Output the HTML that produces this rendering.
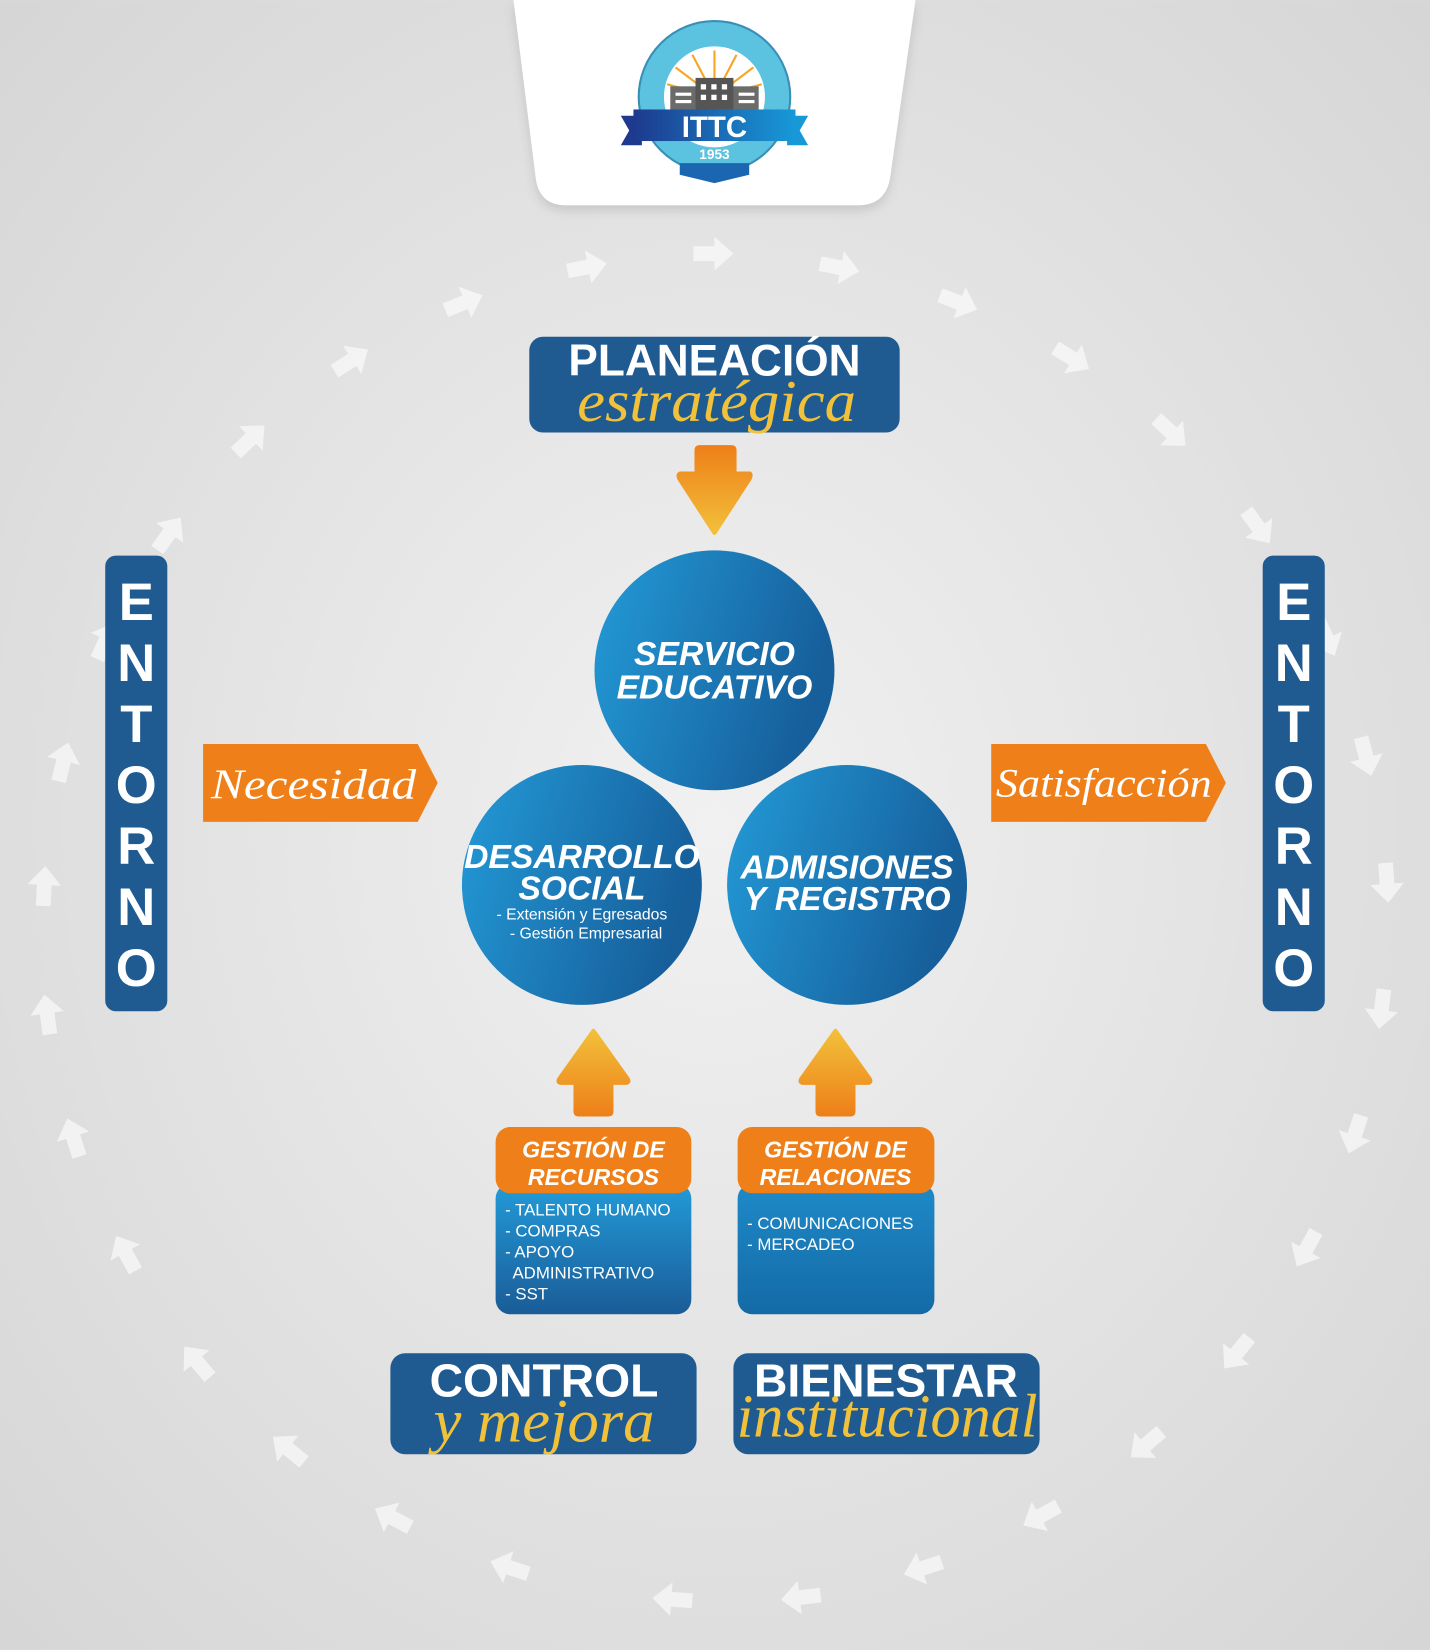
<!DOCTYPE html>
<html><head><meta charset="utf-8"><style>
html,body{margin:0;padding:0;width:1430px;height:1650px;overflow:hidden}
svg{display:block}
</style></head><body>
<svg width="1430" height="1650" viewBox="0 0 1359 1568" xmlns="http://www.w3.org/2000/svg" font-family="Liberation Sans, sans-serif">
<defs>
<radialGradient id="bg" cx="0.5" cy="0.5" r="0.7">
<stop offset="0" stop-color="#f1f1f1"/><stop offset="1" stop-color="#d6d6d6"/></radialGradient>
<linearGradient id="circ" x1="0" y1="0" x2="1" y2="0.3">
<stop offset="0" stop-color="#239bd8"/><stop offset="1" stop-color="#165f9b"/></linearGradient>
<linearGradient id="down" x1="0" y1="0" x2="0" y2="1">
<stop offset="0" stop-color="#ee7f19"/><stop offset="1" stop-color="#f2c13a"/></linearGradient>
<linearGradient id="up" x1="0" y1="1" x2="0" y2="0">
<stop offset="0" stop-color="#ee7f19"/><stop offset="1" stop-color="#f2c13a"/></linearGradient>
<linearGradient id="lst" x1="0" y1="0" x2="0" y2="1">
<stop offset="0" stop-color="#229bd8"/><stop offset="1" stop-color="#1a5c97"/></linearGradient>
<linearGradient id="lst2" x1="0" y1="0" x2="0" y2="1">
<stop offset="0" stop-color="#1e8ac8"/><stop offset="1" stop-color="#146aa6"/></linearGradient>
<linearGradient id="rib" x1="0" y1="0" x2="1" y2="0">
<stop offset="0" stop-color="#1d3a8e"/><stop offset="1" stop-color="#1799d8"/></linearGradient>
<filter id="sh" x="-10%" y="-10%" width="120%" height="130%"><feDropShadow dx="0" dy="5" stdDeviation="5" flood-color="#000" flood-opacity="0.12"/></filter>
<path id="ar" d="M-18,-7 L2,-7 L2,-16 L20,0 L2,16 L2,7 L-18,7 Z" fill="#ffffff" fill-opacity="0.6"/>
</defs>
<rect width="1359" height="1568" fill="url(#bg)"/>

<!-- ring arrows -->
<g>
<use href="#ar" transform="translate(557,254) rotate(-11)"/>
<use href="#ar" transform="translate(677,241) rotate(0)"/>
<use href="#ar" transform="translate(797,254) rotate(11)"/>
<use href="#ar" transform="translate(910,287) rotate(21)"/>
<use href="#ar" transform="translate(1018,340) rotate(32)"/>
<use href="#ar" transform="translate(1112,410) rotate(43)"/>
<use href="#ar" transform="translate(1195,500) rotate(54)"/>
<use href="#ar" transform="translate(1260,605) rotate(65)"/>
<use href="#ar" transform="translate(1298,718) rotate(75)"/>
<use href="#ar" transform="translate(1318,838) rotate(86)"/>
<use href="#ar" transform="translate(1313,958) rotate(97)"/>
<use href="#ar" transform="translate(1288,1077) rotate(108)"/>
<use href="#ar" transform="translate(1242,1186) rotate(119)"/>
<use href="#ar" transform="translate(1176,1285) rotate(129)"/>
<use href="#ar" transform="translate(1090,1372) rotate(140)"/>
<use href="#ar" transform="translate(990,1440) rotate(151)"/>
<use href="#ar" transform="translate(878,1490) rotate(162)"/>
<use href="#ar" transform="translate(762,1518) rotate(173)"/>
<use href="#ar" transform="translate(640,1520) rotate(184)"/>
<use href="#ar" transform="translate(485,1490) rotate(198)"/>
<use href="#ar" transform="translate(374,1443) rotate(208)"/>
<use href="#ar" transform="translate(275,1378) rotate(219)"/>
<use href="#ar" transform="translate(188,1295) rotate(230)"/>
<use href="#ar" transform="translate(120,1192) rotate(241)"/>
<use href="#ar" transform="translate(70,1082) rotate(252)"/>
<use href="#ar" transform="translate(45,965) rotate(262)"/>
<use href="#ar" transform="translate(42,843) rotate(273)"/>
<use href="#ar" transform="translate(60,725) rotate(284)"/>
<use href="#ar" transform="translate(100,610) rotate(295)"/>
<use href="#ar" transform="translate(160,508) rotate(306)"/>
<use href="#ar" transform="translate(237,418) rotate(316)"/>
<use href="#ar" transform="translate(333,343) rotate(327)"/>
<use href="#ar" transform="translate(440,288) rotate(338)"/>
</g>

<!-- logo panel -->
<path d="M488,0 L870,0 L846,168 Q842,195 815,195 L538,195 Q512,195 509,168 Z" fill="#fff" filter="url(#sh)"/>
<g>
<circle cx="679" cy="92" r="72" fill="#5bc2e0" stroke="#3a8fb6" stroke-width="2"/>
<circle cx="679" cy="92" r="48" fill="#fff"/>
<g stroke="#f5a623" stroke-width="2">
<line x1="679" y1="92" x2="679" y2="48"/><line x1="679" y1="92" x2="700" y2="52"/><line x1="679" y1="92" x2="658" y2="52"/>
<line x1="679" y1="92" x2="716" y2="64"/><line x1="679" y1="92" x2="642" y2="64"/><line x1="679" y1="92" x2="724" y2="80"/><line x1="679" y1="92" x2="634" y2="80"/>
</g>
<circle cx="679" cy="92" r="18" fill="#f7c94a"/>
<rect x="637" y="82" width="84" height="24" fill="#6b6b6b"/>
<rect x="661" y="74" width="36" height="32" fill="#555"/>
<g fill="#fff"><rect x="666" y="80" width="5" height="5"/><rect x="676" y="80" width="5" height="5"/><rect x="686" y="80" width="5" height="5"/><rect x="666" y="90" width="5" height="5"/><rect x="676" y="90" width="5" height="5"/><rect x="686" y="90" width="5" height="5"/>
<rect x="642" y="88" width="15" height="3"/><rect x="642" y="95" width="15" height="3"/><rect x="702" y="88" width="15" height="3"/><rect x="702" y="95" width="15" height="3"/></g>
<path d="M590,110 L610,110 L610,138 L590,138 L598,124 Z" fill="#1d3a8e"/>
<path d="M768,110 L748,110 L748,138 L768,138 L760,124 Z" fill="#1799d8"/>
<rect x="602" y="104" width="154" height="30" fill="url(#rib)"/>
<text x="679" y="130" text-anchor="middle" font-size="28" font-weight="bold" fill="#fff">ITTC</text>
<text x="679" y="151" text-anchor="middle" font-size="13" font-weight="bold" fill="#fff">1953</text>
<path d="M646,155 L712,155 L712,166 L679,174 L646,166 Z" fill="#1a66b0"/>
</g>

<!-- Planeacion -->
<rect x="503" y="320" width="352" height="91" rx="13" fill="#1f5b91"/>
<text x="679" y="357" text-anchor="middle" font-size="42" font-weight="bold" fill="#fff">PLANEACIÓN</text>
<text x="681" y="400" text-anchor="middle" font-size="56" font-style="italic" font-family="Liberation Serif, serif" fill="#f2c13a" textLength="265" lengthAdjust="spacingAndGlyphs">estratégica</text>
<path d="M660,428 Q660,423 665,423 L695,423 Q700,423 700,428 L700,448 L713,448 Q717,450 714,456 L681,507 Q679,510 677,507 L644,456 Q641,450 646,448 L660,448 Z" fill="url(#down)"/>

<!-- circles -->
<circle cx="679" cy="637" r="114" fill="url(#circ)"/>
<circle cx="553" cy="841" r="114" fill="url(#circ)"/>
<circle cx="805" cy="841" r="114" fill="url(#circ)"/>
<g fill="#fff" font-weight="bold" font-style="italic" text-anchor="middle" font-size="32">
<text x="679" y="632">SERVICIO</text><text x="679" y="664">EDUCATIVO</text>
<text x="553" y="825">DESARROLLO</text><text x="553" y="855">SOCIAL</text>
<text x="805" y="835">ADMISIONES</text><text x="805" y="865">Y REGISTRO</text>
</g>
<text x="553" y="874" text-anchor="middle" font-size="15" fill="#fff">- Extensión y Egresados</text>
<text x="557" y="892" text-anchor="middle" font-size="15" fill="#fff">- Gestión Empresarial</text>

<!-- up arrows -->
<path d="M545,1056 Q545,1061 550,1061 L578,1061 Q583,1061 583,1056 L583,1031 L596,1031 Q601,1029 598,1024 L566,979 Q564,976 562,979 L530,1024 Q527,1029 532,1031 L545,1031 Z" fill="url(#up)"/>
<path d="M775,1056 Q775,1061 780,1061 L808,1061 Q813,1061 813,1056 L813,1031 L826,1031 Q831,1029 828,1024 L796,979 Q794,976 792,979 L760,1024 Q757,1029 762,1031 L775,1031 Z" fill="url(#up)"/>

<!-- gestion boxes -->
<rect x="471" y="1125" width="186" height="124" rx="14" fill="url(#lst)"/>
<rect x="471" y="1071" width="186" height="63" rx="14" fill="#ef8019"/>
<rect x="701" y="1125" width="187" height="124" rx="14" fill="url(#lst2)"/>
<rect x="701" y="1071" width="187" height="63" rx="14" fill="#ef8019"/>
<g fill="#fff" font-weight="bold" font-style="italic" text-anchor="middle" font-size="22">
<text x="564" y="1100">GESTIÓN DE</text><text x="564" y="1126">RECURSOS</text>
<text x="794" y="1100">GESTIÓN DE</text><text x="794" y="1126">RELACIONES</text>
</g>
<g fill="#fff" font-size="16">
<text x="480" y="1155">- TALENTO HUMANO</text><text x="480" y="1175">- COMPRAS</text><text x="480" y="1195">- APOYO</text><text x="487" y="1215">ADMINISTRATIVO</text><text x="480" y="1235">- SST</text>
<text x="710" y="1168">- COMUNICACIONES</text><text x="710" y="1188">- MERCADEO</text>
</g>

<!-- control / bienestar -->
<rect x="371" y="1286" width="291" height="96" rx="14" fill="#1f5b91"/>
<rect x="697" y="1286" width="291" height="96" rx="14" fill="#1f5b91"/>
<text x="517" y="1327" text-anchor="middle" font-size="44" font-weight="bold" fill="#fff">CONTROL</text>
<text x="517" y="1370" text-anchor="middle" font-size="58" font-style="italic" font-family="Liberation Serif, serif" fill="#f2c13a" textLength="210" lengthAdjust="spacingAndGlyphs">y mejora</text>
<text x="842" y="1327" text-anchor="middle" font-size="44" font-weight="bold" fill="#fff">BIENESTAR</text>
<text x="843" y="1365" text-anchor="middle" font-size="58" font-style="italic" font-family="Liberation Serif, serif" fill="#f2c13a" textLength="286" lengthAdjust="spacingAndGlyphs">institucional</text>

<!-- entorno -->
<rect x="100" y="528" width="59" height="433" rx="10" fill="#1f5b91"/>
<rect x="1200" y="528" width="59" height="433" rx="10" fill="#1f5b91"/>
<g fill="#fff" font-weight="bold" font-size="50" text-anchor="middle">
<text x="129.5" y="589">E</text><text x="129.5" y="647">N</text><text x="129.5" y="705">T</text><text x="129.5" y="763">O</text><text x="129.5" y="821">R</text><text x="129.5" y="879">N</text><text x="129.5" y="937">O</text>
<text x="1229.5" y="589">E</text><text x="1229.5" y="647">N</text><text x="1229.5" y="705">T</text><text x="1229.5" y="763">O</text><text x="1229.5" y="821">R</text><text x="1229.5" y="879">N</text><text x="1229.5" y="937">O</text>
</g>

<!-- necesidad / satisfaccion -->
<path d="M193,707 L397,707 L416,744 L397,781 L193,781 Z" fill="#ef8019"/>
<path d="M942,707 L1146,707 L1165,744 L1146,781 L942,781 Z" fill="#ef8019"/>
<text x="298" y="759" text-anchor="middle" font-size="40" font-style="italic" font-family="Liberation Serif, serif" fill="#fff" textLength="195" lengthAdjust="spacingAndGlyphs">Necesidad</text>
<text x="1049" y="757" text-anchor="middle" font-size="38" font-style="italic" font-family="Liberation Serif, serif" fill="#fff" textLength="205" lengthAdjust="spacingAndGlyphs">Satisfacción</text>
</svg>
</body></html>
